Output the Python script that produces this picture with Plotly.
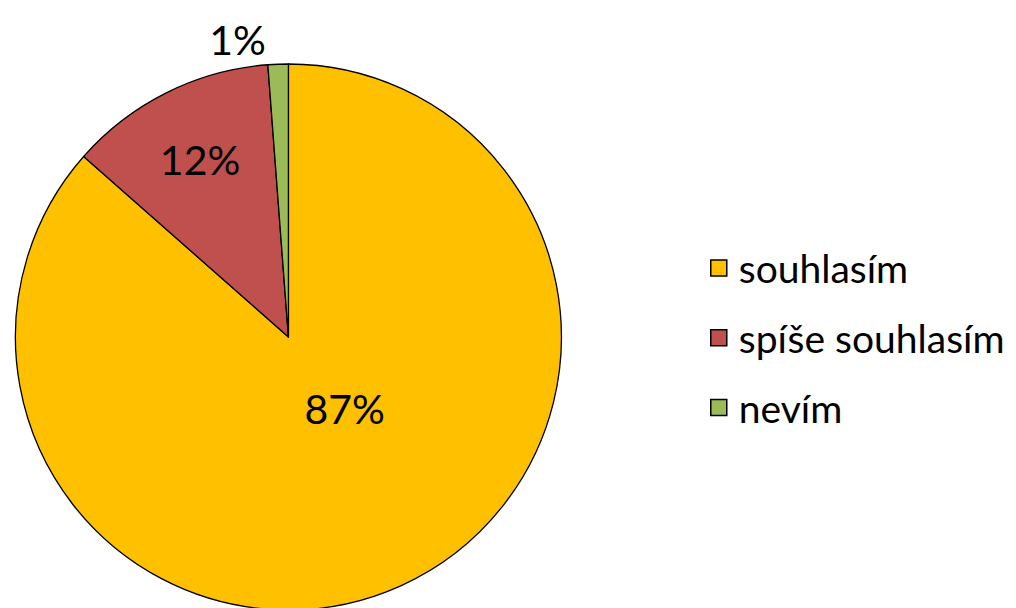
import plotly.graph_objects as go

categories = ["souhlasím", "spíše souhlasím", "nevím"]
values = [86.5, 12.3, 1.2]
label_text = ["87%<br>\u00a0<br>\u00a0", "12%", "1%"]
colors = ["#FFC000", "#C0504D", "#9BBB59"]

fig = go.Figure()
fig.add_trace(go.Pie(
    labels=categories,
    values=values,
    text=label_text,
    textinfo="text",
    textposition=["inside", "inside", "outside"],
    insidetextorientation="horizontal",
    sort=False,
    direction="clockwise",
    rotation=0,
    showlegend=False,
    marker=dict(colors=colors, line=dict(color="black", width=1.3)),
    textfont=dict(family="Lato", size=41, color="black"),
    domain=dict(x=[0.0, 0.5434], y=[0.0099, 0.9079]),
))

# legend entries (one group each for spacing)
for name, col in zip(categories, colors):
    fig.add_trace(go.Scatter(
        x=[None], y=[None], mode="markers", name=name,
        legendgroup=name, showlegend=True,
        marker=dict(symbol="square", size=22, color=col,
                    line=dict(color="black", width=1.5)),
    ))

fig.update_layout(
    width=1016, height=608,
    margin=dict(l=0, r=0, t=0, b=0),
    paper_bgcolor="white",
    plot_bgcolor="white",
    xaxis=dict(visible=False),
    yaxis=dict(visible=False),
    showlegend=True,
    legend=dict(
        x=0.678, y=0.457, xanchor="left", yanchor="middle",
        font=dict(family="Lato", size=39, color="black"),
        itemsizing="trace",
        itemwidth=30,
        tracegroupgap=16,
        bgcolor="rgba(0,0,0,0)",
    ),
)

fig.write_html("out.html")
